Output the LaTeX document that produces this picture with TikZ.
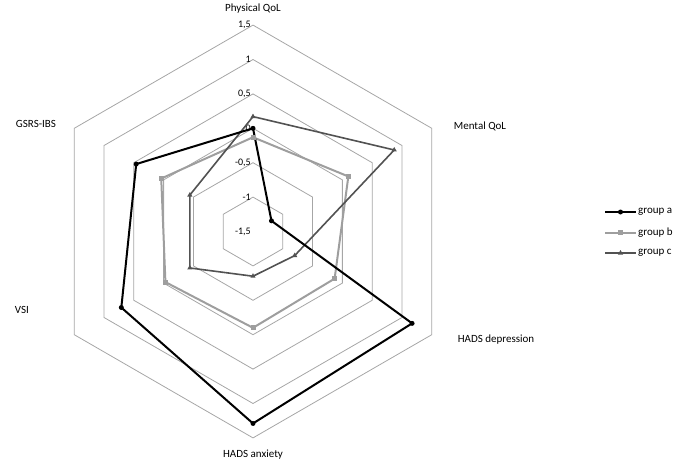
\documentclass[tikz,border=0pt]{standalone}
\usepackage{fontspec}
\setmainfont{Carlito}
\usetikzlibrary{positioning, calc, shapes.geometric}

\begin{document}
\begin{tikzpicture}[x=1pt,y=1pt,
    ring/.style={draw=black!35, line width=0.8pt},
    lbl/.style={font=\fontsize{11}{13}\selectfont},
    tick/.style={font=\fontsize{10}{12}\selectfont, anchor=east, inner sep=1pt},
    sera/.style={draw=black, line width=2pt, line join=round},
    serb/.style={draw=black!38, line width=2pt, line join=round},
    serc/.style={draw=black!68, line width=1.6pt, line join=round},
    dota/.style={circle, fill=black, inner sep=0pt, minimum size=5pt},
    dotb/.style={rectangle, fill=black!38, inner sep=0pt, minimum size=5pt},
    dotc/.style={regular polygon, regular polygon sides=3, fill=black!68, inner sep=0pt, minimum size=6pt}]
\useasboundingbox (0,0) rectangle (679,-465);
\coordinate (ctr) at (253,-231.5);
% rings
\foreach \i in {1,...,6}
  \draw[ring] ($(ctr)+(90:34.4*\i)$) \foreach \k in {1,...,5} {-- ($(ctr)+(90-60*\k:34.4*\i)$)} -- cycle;
% scale
\foreach \v/\t [count=\i from 0] in {-1.5/{-1,5},-1/{-1},-0.5/{-0,5},0/0,0.5/{0,5},1/1,1.5/{1,5}}
  \node[tick] (t\i) at ($(ctr)+(-1,34.4*\i)$) {\t};
% axes labels
\node[lbl] (pq) at (253,-9) {Physical QoL};
\node[lbl] (mq) at (480,-126) {Mental QoL};
\node[lbl] (hd) at (496,-340) {HADS depression};
\node[lbl] (ha) at (253,-455) {HADS anxiety};
\node[lbl] (vs) at (22,-310) {VSI};
\node[lbl] (gs) at (36,-124) {GSRS-IBS};
% data
\foreach \s/\vals in {a/{0,-1.19,1.17,1.29,0.71,0.46}, b/{-0.13,0.1,-0.13,-0.1,-0.03,0.04}, c/{0.17,0.87,-0.8,-0.85,-0.44,-0.44}}
  \foreach \v [count=\k from 0] in \vals
    \coordinate (\s\k) at ($(ctr)+(90-60*\k:{(\v+1.5)*68.8})$);
\draw[serb] (b0) -- (b1) -- (b2) -- (b3) -- (b4) -- (b5) -- cycle;
\draw[serc] (c0) -- (c1) -- (c2) -- (c3) -- (c4) -- (c5) -- cycle;
\draw[sera] (a0) -- (a1) -- (a2) -- (a3) -- (a4) -- (a5) -- cycle;
\foreach \k in {0,...,5} {
  \node[dotb] at (b\k) {};
  \node[dotc] at (c\k) {};
  \node[dota] at (a\k) {};
}
% legend
\foreach \s/\t [count=\i from 0] in {a/group a, b/group b, c/group c} {
  \coordinate (l\s) at (605,-212-20.5*\i);
  \coordinate (r\s) at (636,-212-20.5*\i);
  \node[lbl, anchor=west, inner sep=2pt] (n\s) at (r\s) {\t};
  \draw[ser\s] (l\s) -- (r\s);
  \node[dot\s] at ($(l\s)!0.5!(r\s)$) {};
}
\end{tikzpicture}
\end{document}
